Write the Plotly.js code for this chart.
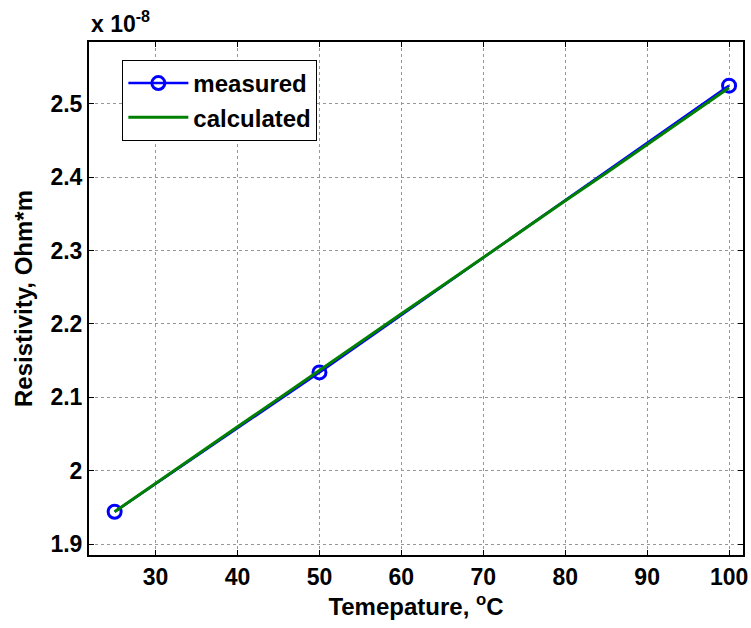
<!DOCTYPE html>
<html>
<head>
<meta charset="utf-8">
<script src="https://cdn.plot.ly/plotly-3.0.1.min.js"></script>
<style>html,body{margin:0;padding:0;background:#fff;}#chart{width:751px;height:628px;}</style>
</head>
<body>
<div id="chart"></div>
<script>
// Data (resistivity in units of 1e-8 Ohm*m)
var measuredT = [25, 50, 100];
var measuredR = [1.944, 2.134, 2.525];
var calcT = [25, 30, 35, 40, 45, 50, 55, 60, 65, 70, 75, 80, 85, 90, 95, 100];
var calcR = [1.944, 1.983, 2.021, 2.060, 2.098, 2.137, 2.175, 2.214, 2.252, 2.291, 2.329, 2.368, 2.406, 2.445, 2.483, 2.522];
var xTickVals = [30, 40, 50, 60, 70, 80, 90, 100];
var yTickVals = [1.9, 2.0, 2.1, 2.2, 2.3, 2.4, 2.5];
var yTickText = ['1.9', '2', '2.1', '2.2', '2.3', '2.4', '2.5'];
var seriesNames = ['measured', 'calculated'];

var FONT = 'Liberation Sans, Arial, Helvetica, sans-serif';

var traces = [
  {
    x: measuredT, y: measuredR, name: seriesNames[0],
    type: 'scatter', mode: 'lines+markers',
    line: {color: '#0000FF', width: 2.5},
    marker: {symbol: 'circle-open', size: 13, color: '#0000FF', line: {width: 3, color: '#0000FF'}}
  },
  {
    x: calcT, y: calcR, name: seriesNames[1],
    type: 'scatter', mode: 'lines',
    line: {color: '#008000', width: 3}
  }
];

var axisCommon = {
  showline: true, linecolor: '#000', linewidth: 2, mirror: 'allticks',
  ticks: 'inside', ticklen: 5, tickwidth: 1, tickcolor: '#000',
  showgrid: true, gridcolor: 'rgb(150,150,150)', gridwidth: 1, griddash: 'dot',
  zeroline: false,
  tickfont: {family: FONT, size: 23, color: '#000', weight: 'bold'}
};

var layout = {
  width: 751, height: 628,
  margin: {l: 89, r: 8, t: 42, b: 73},
  paper_bgcolor: '#fff', plot_bgcolor: '#fff',
  showlegend: true,
  xaxis: Object.assign({}, axisCommon, {
    range: [21.87, 101.7], tickmode: 'array', tickvals: xTickVals,
    title: {text: 'Temepature, <sup>o</sup>C', font: {family: FONT, size: 24, color: '#000', weight: 'bold'}, standoff: 8}
  }),
  yaxis: Object.assign({}, axisCommon, {
    range: [1.885, 2.5845], tickmode: 'array', tickvals: yTickVals, ticktext: yTickText,
    title: {text: 'Resistivity, Ohm*m', font: {family: FONT, size: 24, color: '#000', weight: 'bold'}, standoff: 11}
  }),
  legend: {
    x: 0.051, y: 0.965, xanchor: 'left', yanchor: 'top',
    bgcolor: '#fff', bordercolor: '#000', borderwidth: 1,
    font: {family: FONT, size: 24, color: '#000', weight: 'bold'},
    itemwidth: 60, tracegroupgap: 0
  },
  annotations: [{
    xref: 'paper', yref: 'paper', x: 0, y: 1, xanchor: 'left', yanchor: 'bottom',
    yshift: 3, showarrow: false,
    text: 'x 10<sup>-8</sup>',
    font: {family: FONT, size: 23, color: '#000', weight: 'bold'}
  }]
};

Plotly.newPlot('chart', traces, layout, {displayModeBar: false, staticPlot: true});
</script>
</body>
</html>
